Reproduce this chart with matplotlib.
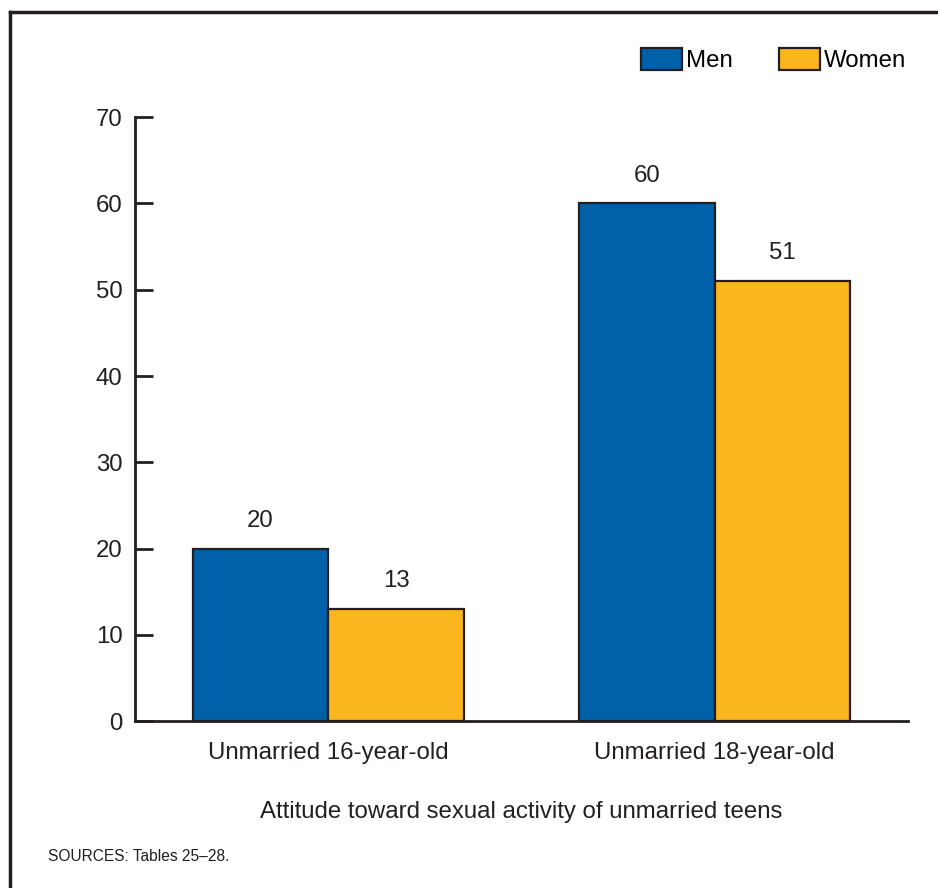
import numpy as np
import matplotlib.pyplot as plt
from matplotlib.lines import Line2D

plt.rcParams['font.family'] = ['Liberation Sans', 'DejaVu Sans']
plt.rcParams['font.size'] = 17.3

# data
categories = ['Unmarried 16-year-old', 'Unmarried 18-year-old']
men = [20, 60]
women = [13, 51]
series_names = ['Men', 'Women']
blue = '#0061A9'
yellow = '#FBB51F'
ink = '#231f20'

fig = plt.figure(figsize=(9.38, 8.88), dpi=100)
ax = fig.add_axes([0.1439, 0.188, 0.824, 0.680])

x = np.arange(len(categories))
w = 0.351
b1 = ax.bar(x - w/2, men, w, color=blue, edgecolor=ink, lw=1.6, label=series_names[0])
b2 = ax.bar(x + w/2, women, w, color=yellow, edgecolor=ink, lw=1.6, label=series_names[1])

for bars, vals in [(b1, men), (b2, women)]:
    for r, v in zip(bars, vals):
        ax.annotate(str(v), (r.get_x() + r.get_width()/2, v), xytext=(0, 12),
                    textcoords='offset points', ha='center', va='bottom', color=ink)

ax.set_xlim(-0.5, 1.5)
ax.set_ylim(0, 70)
ax.set_yticks(range(0, 71, 10))
ax.set_xticks(x)
ax.set_xticklabels(categories)
ax.tick_params(axis='y', direction='in', length=13, width=2, pad=9, colors=ink)
ax.tick_params(axis='x', length=0, pad=15, colors=ink)
for s in ['top', 'right']:
    ax.spines[s].set_visible(False)
for s in ['left', 'bottom']:
    ax.spines[s].set_linewidth(2)
    ax.spines[s].set_color(ink)

ax.set_xlabel('Attitude toward sexual activity of unmarried teens', labelpad=27, color=ink)

fig.legend(handles=[b1, b2], labels=series_names, loc='center right',
           bbox_to_anchor=(906/938, 1 - 60/888), bbox_transform=fig.transFigure,
           ncol=2, frameon=False, handlelength=1.7, handleheight=1.08,
           handletextpad=0.17, columnspacing=1.9, borderpad=0, borderaxespad=0)

fig.text(48/938, 1 - 856/888, 'SOURCES: Tables 25\u201328.', fontsize=11.2, va='center', color=ink)

# frame lines (top and left only)
fig.add_artist(Line2D([10/938, 1], [1 - 12/888, 1 - 12/888], color=ink, lw=2.5, transform=fig.transFigure))
fig.add_artist(Line2D([10/938, 10/938], [0, 1 - 12/888], color=ink, lw=2.5, transform=fig.transFigure))

fig.savefig('out.png', dpi=100)
